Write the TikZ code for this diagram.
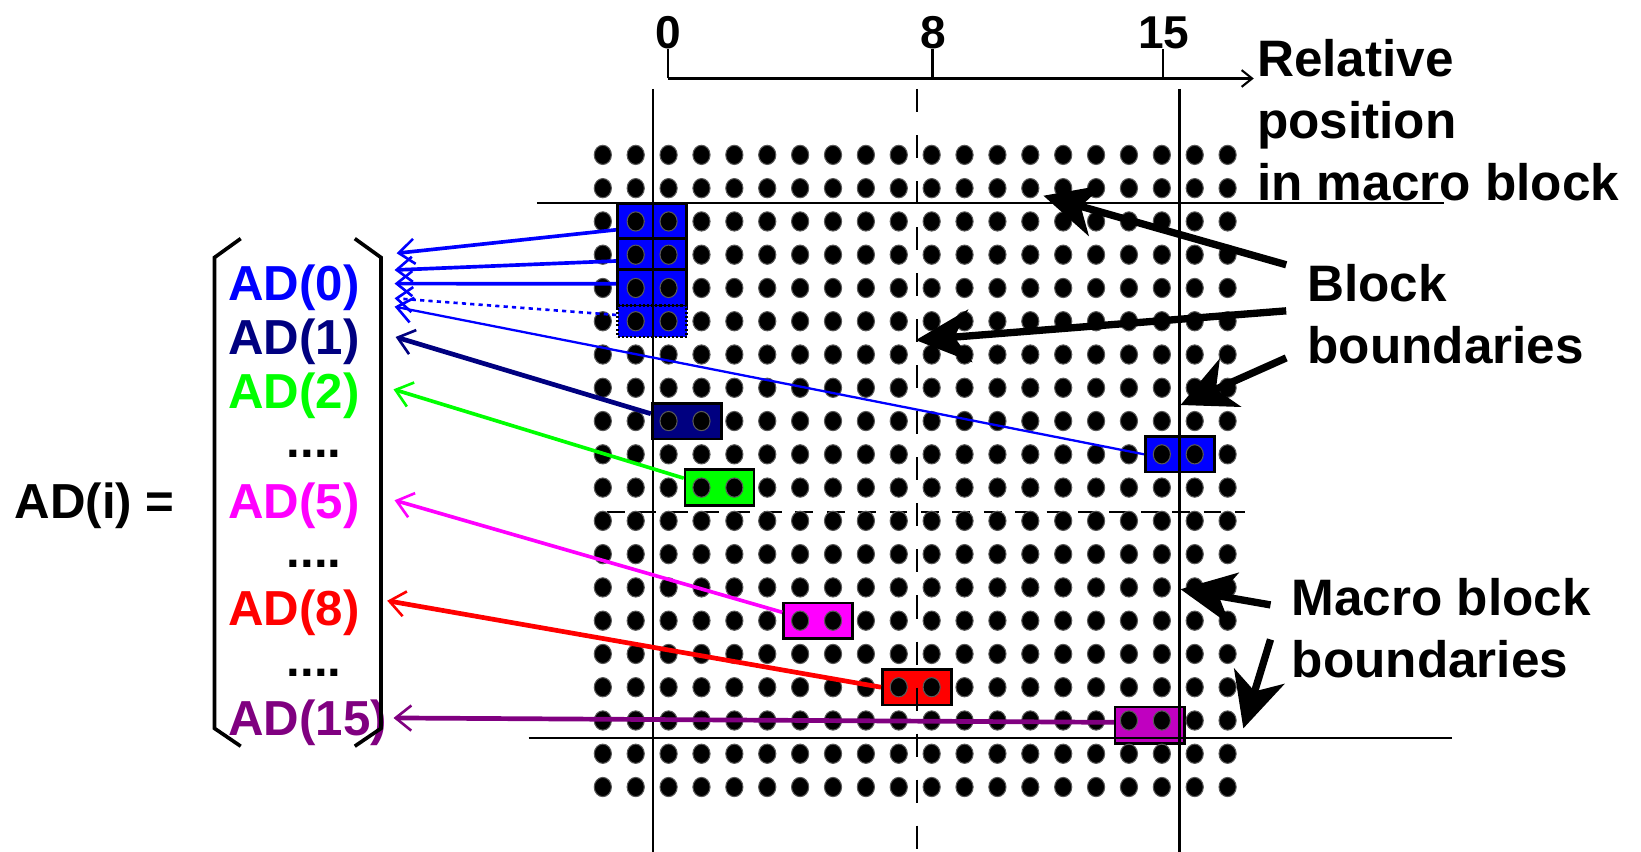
\documentclass[tikz,border=0pt]{standalone}
\usepackage{fontspec}
\setmainfont{Liberation Sans}
\usetikzlibrary{arrows.meta}
\definecolor{adblue}{HTML}{0000FF}
\definecolor{adnavy}{HTML}{000080}
\definecolor{adgreen}{HTML}{00FF00}
\definecolor{admagenta}{HTML}{FF00FF}
\definecolor{adred}{HTML}{FF0000}
\definecolor{adpurple}{HTML}{800080}
\definecolor{adorchid}{HTML}{C000C0}

\begin{document}
\begin{tikzpicture}[x=1pt,y=-1pt,
  big/.style={font=\fontsize{49}{59}\selectfont\bfseries,align=left,anchor=west,inner sep=0pt},
  ad/.style={font=\fontsize{47}{56}\selectfont\bfseries,anchor=base west,inner sep=0pt},
  pel/.style={fill=black,draw=black!65,line width=1pt},
  cell/.style={draw=black,line width=2.5pt,minimum width=66pt,minimum height=34pt,inner sep=0pt},
  feed/.style={-{Straight Barb[length=15pt,width=24pt,line width=2.5pt]},line width=3.5pt},
  hint/.style={-{Stealth[length=52pt,width=50pt,inset=15pt]},line width=7pt}]
 \def\xo{576}
 \def\yo{148}
 \def\dx{31.42}
 \def\dy{31.79}
 \useasboundingbox (0,0) rectangle (1568,814);

 % sampled pixel pairs
 \node[cell,fill=adblue,line width=3pt,minimum height=35pt] (s0) at ({\xo+1.5*\dx},{\yo+2*\dy}) {};
 \node[cell,fill=adblue,line width=3pt,minimum height=31pt] (s1) at ({\xo+1.5*\dx},{\yo+3*\dy}) {};
 \node[cell,fill=adblue,line width=3pt,minimum height=35pt] (s2) at ({\xo+1.5*\dx},{\yo+4*\dy}) {};
 \node[cell,fill=adblue,minimum height=30pt,dash pattern=on 2pt off 2pt] (s3) at ({\xo+1.5*\dx},{\yo+5*\dy}) {};
 \node[cell,fill=adblue] (p0) at ({\xo+17.55*\dx},{\yo+9*\dy}) {};
 \node[cell,fill=adnavy] (p1) at ({\xo+2.55*\dx},{\yo+8*\dy}) {};
 \node[cell,fill=adgreen] (p2) at ({\xo+3.55*\dx},{\yo+10*\dy}) {};
 \node[cell,fill=admagenta] (p5) at ({\xo+6.55*\dx},{\yo+14*\dy}) {};
 \node[cell,fill=adred] (p8) at ({\xo+9.55*\dx},{\yo+16*\dy}) {};
 \node[cell,fill=adorchid,minimum height=35pt] (p15) at ({\xo+16.63*\dx},{\yo+17.15*\dy}) {};

 % block and macro block boundaries
 \draw[line width=2pt] (624,85) -- (624,814);
 \draw[line width=2pt] (1127,85) -- (1127,814);
 \draw[line width=2pt,dash pattern=on 22pt off 22pt] (876,85) -- (876,814);
 \draw[line width=2pt] (513,194) -- (1380,194);
 \draw[line width=2pt,dash pattern=on 17pt off 13pt] (580,489) -- (1190,489);
 \draw[line width=2pt] (505,705) -- (1387,705);

 \foreach \r in {0,...,19}
  \foreach \c in {0,...,19}
   \draw[pel] ({\xo+\c*\dx},{\yo+\r*\dy}) ellipse (8.2pt and 9.2pt);

 % relative position axis
 \draw[line width=2pt,-{Straight Barb[length=10pt,width=16pt]}] (638,75) -- (1198,75);
 \foreach \xx/\lab in {638/0,891/8,1111/15}
  \draw[line width=2pt] (\xx,75) -- (\xx,47)
   node[anchor=base,inner sep=0pt,font=\fontsize{44}{50}\selectfont\bfseries] (tick\lab) at (\xx+1,46) {\lab};
 \node[big] (rel) at (1201,115) {Relative\\position\\in macro block};
 \node[big] (blk) at (1249,300) {Block\\boundaries};
 \node[big] (mbb) at (1234,600) {Macro block\\boundaries};

 % address vector
 \node[ad] (adi) at (14,495) {AD(i) =};
 \foreach \n/\lab/\col/\yb in {0/AD(0)/adblue/287,1/AD(1)/adnavy/339,2/AD(2)/adgreen/390,
   5/AD(5)/admagenta/495,8/AD(8)/adred/598,15/AD(15)/adpurple/703}
  \node[ad,text=\col] (ad\n) at (218,\yb) {\lab};
 \foreach \yb/\n in {437/a,542/b,646/c}
  \node[ad] (gap\n) at (274,\yb) {....};
 \draw[line width=3.5pt] (230,228) -- (205,246) -- (205,696) -- (230,713);
 \draw[line width=3.5pt] (339,228) -- (364,246) -- (364,696) -- (339,713);

 \coordinate (e0) at (379,242);
 \coordinate (e1) at (377,258);
 \coordinate (e2) at (377,271);
 \coordinate (e3) at (377,285);
 \coordinate (e4) at (377,293);
 \coordinate (e5) at (378,322);
 \coordinate (e6) at (376,372);
 \coordinate (e7) at (377,478);
 \coordinate (e8) at (370,574);
 \coordinate (e9) at (376,686);
 \draw[feed,adblue] ([shift={(0,8)}]s0.west) -- (e0);
 \draw[feed,adblue] ([shift={(0,6)}]s1.west) -- (e1);
 \draw[feed,adblue] ([shift={(0,-4)}]s2.west) -- (e2);
 \draw[feed,adblue,line width=2.5pt,dash pattern=on 4pt off 4pt] ([shift={(0,-6)}]s3.west) -- (e3);
 \draw[feed,adblue,line width=2.2pt] (p0.west) -- (e4);
 \draw[feed,adnavy,line width=4.5pt] ([shift={(0,-7)}]p1.west) -- (e5);
 \draw[feed,adgreen] ([shift={(0,-9)}]p2.west) -- (e6);
 \draw[feed,admagenta] ([shift={(0,-8)}]p5.west) -- (e7);
 \draw[feed,adred,line width=4.5pt] (p8.west) -- (e8);
 \draw[feed,adpurple,line width=4.5pt] ([shift={(0,-3)}]p15.west) -- (e9);

 \coordinate (h1) at (997,187);
 \coordinate (h2) at (875,325);
 \coordinate (h3) at (1128,387);
 \coordinate (h4) at (1128,563);
 \coordinate (h5) at (1188,696);
 \draw[hint] ([shift={(-20,-47)}]blk.west) -- (h1);
 \draw[hint] ([shift={(-20,-3)}]blk.west) -- (h2);
 \draw[hint] ([shift={(-20,42)}]blk.west) -- (h3);
 \draw[hint] ([shift={(-20,-22)}]mbb.west) -- (h4);
 \draw[hint] ([shift={(-20,11)}]mbb.west) -- (h5);
\end{tikzpicture}
\end{document}
